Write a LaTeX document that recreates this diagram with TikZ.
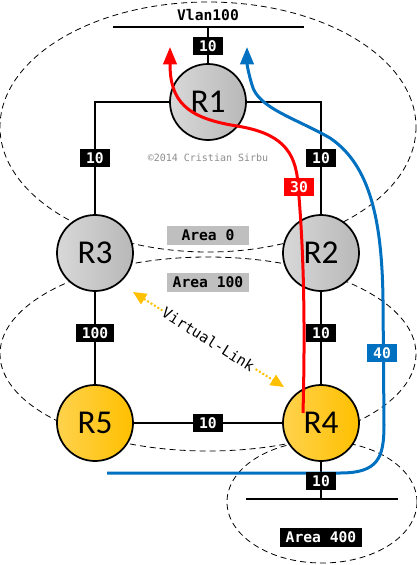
\documentclass[tikz,border=0pt]{standalone}
\usepackage{fontspec}
\newfontfamily\monof{DejaVu Sans Mono}
\newfontfamily\routerf{Carlito}
\usetikzlibrary{arrows.meta}
\definecolor{grayL}{HTML}{D8D8D8}
\definecolor{grayR}{HTML}{B8B8B8}
\definecolor{yelL}{HTML}{FFD24D}
\definecolor{yelR}{HTML}{FFC000}
\definecolor{areagray}{HTML}{BFBFBF}
\definecolor{redc}{HTML}{FF0000}
\definecolor{bluec}{HTML}{0070C0}
\definecolor{vyellow}{HTML}{FFC000}
\tikzset{
  router/.style={circle, draw=black, line width=1.3pt, minimum size=57pt, inner sep=0pt,
    font=\routerf\fontsize{25}{25}\selectfont},
  grayrouter/.style={router, left color=grayL, right color=grayR},
  yelrouter/.style={router, left color=yelL, right color=yelR},
  link/.style={line width=1.3pt},
  cost/.style={fill=black, text=white, font=\monof\bfseries\fontsize{11}{11}\selectfont,
    inner xsep=4.5pt, inner ysep=0pt, minimum height=13.5pt},
  areabox/.style={fill=areagray, font=\monof\bfseries\fontsize{11}{11}\selectfont,
    minimum width=62pt, minimum height=14.25pt, inner sep=0pt},
  areaell/.style={dash pattern=on 4.5pt off 3pt, line width=0.6pt},
  redpath/.style={draw=redc, line width=2.25pt, -{Triangle[length=13pt,width=10pt]}},
  bluepath/.style={draw=bluec, line width=2.25pt, -{Triangle[length=13pt,width=10pt]}},
  vlink/.style={draw=vyellow, line width=1.5pt, dash pattern=on 1.5pt off 1.5pt,
    {Triangle[length=10pt,width=9pt]}-{Triangle[length=10pt,width=9pt]}}
}
\begin{document}
\begin{tikzpicture}[x=0.75pt,y=-0.75pt]
\useasboundingbox (0,0) rectangle (417,565);
% areas
\draw[areaell] (208,127) ellipse [x radius=208, y radius=125];
\draw[areaell] (208,354) ellipse [x radius=208, y radius=97];
\draw[areaell] (322,502) ellipse [x radius=95, y radius=61];
% routers
\node[grayrouter] (R1) at (208,102) {R1};
\node[grayrouter] (R3) at (95,253) {R3};
\node[grayrouter] (R2) at (321,253) {R2};
\node[yelrouter] (R5) at (95,423) {R5};
\node[yelrouter] (R4) at (321,423) {R4};
% segments
\coordinate (vl) at (113,27);
\coordinate (vr) at (304,27);
\coordinate (al) at (246,499);
\coordinate (ar) at (398,499);
\node[font=\monof\bfseries\fontsize{11}{11}\selectfont] (vlan) at (208,15) {Vlan100};
% links
\draw[link] (vl) -- (vr);
\draw[link] (R1) -- (R1 |- vl);
\draw[link] (R1.west) -| (R3.north);
\draw[link] (R1.east) -| (R2.north);
\draw[link] (R3) -- (R5);
\draw[link] (R2) -- (R4);
\draw[link] (R5) -- (R4);
\draw[link] (al) -- (ar);
\draw[link] (R4) -- (R4 |- al);
% costs
\node[cost] (c1) at (208,46) {10};
\node[cost] (c13) at (95,158) {10};
\node[cost] (c12) at (321,158) {10};
\node[cost] (c35) at (95,333) {100};
\node[cost] (c24) at (321,333) {10};
\node[cost] (c54) at (208,423) {10};
% area labels
\node[areabox] (a0) at (208,235) {Area 0};
\node[areabox] (a100) at (208,282) {Area 100};
\node[areabox, fill=black, text=white] (a400) at (321,537) {Area 400};
\node[font=\monof\fontsize{7.5}{7.5}\selectfont, text=black!45] (copy) at (208,158) {©2014 Cristian Sirbu};
% virtual link
\coordinate (vA) at (133,292);
\coordinate (vB) at (284,387);
\draw[vlink] (vA) -- (vB) node[midway, sloped, fill=white, inner sep=1pt, text=black,
  font=\monof\fontsize{11}{11}\selectfont] (vtext) {Virtual-Link};
% paths
\coordinate (bs) at (107,473);
\coordinate (be) at (247,47);
\draw[bluepath] (bs) -- (340,473) .. controls (378,473) and (384,458) .. (384,425)
  -- (383,300) .. controls (382,220) and (370,165) .. (330,138)
  .. controls (295,118) and (258,108) .. (252,85)
  .. controls (249,75) and (247,65) .. (be);
\node[cost] (c4) at (321,481) {10};
\coordinate (rs) at (303,413);
\coordinate (re) at (170,47);
\draw[redpath] (rs) .. controls (306,300) and (302,230) .. (298,185)
  .. controls (296,150) and (280,133) .. (237,126)
  .. controls (185,118) and (170,100) .. (re);
\node[cost, fill=redc] (c30) at (299,187) {30};
\node[cost, fill=bluec] (c40) at (382,353) {40};
\end{tikzpicture}
\end{document}
